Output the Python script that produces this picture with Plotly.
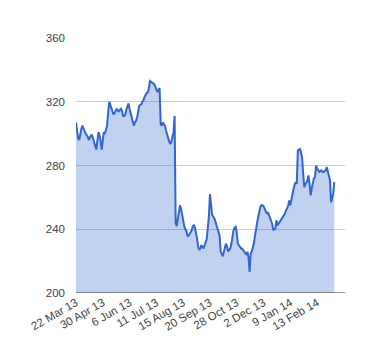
import plotly.graph_objects as go

prices = [
    307, 303, 297, 296, 300, 303, 305, 303, 301, 300,
    299, 298, 296, 298, 299, 299, 297, 295, 293, 290,
    296, 301, 299, 295, 290, 296, 301, 300, 302, 305,
    313, 320, 318, 316, 314, 312, 313, 314, 315.6, 314.5,
    314, 315, 315.5, 314, 311, 311, 312, 315, 318, 319,
    315.6, 313, 310, 307, 305, 307, 308, 310, 314, 317.5,
    318, 318.5, 320, 321, 323, 324.8, 325.5, 326, 328.5, 333,
    332.5, 332, 331.5, 331, 329.5, 327, 326, 327.6, 328.6, 306,
    305, 307, 306, 305, 302, 299, 297, 295, 293.5, 295,
    298, 301, 311, 244, 242, 247, 252, 255, 253, 249,
    245.6, 242, 240, 239, 236, 236, 237, 238, 239.4, 242,
    242.5, 241, 238, 234, 229, 227, 228, 230, 229, 228,
    230, 233, 234, 241, 248, 262, 255, 249, 248, 247,
    245, 243, 241, 239.4, 236, 226, 224, 223, 226, 229,
    231, 229, 226, 227, 228, 231, 236, 239.4, 241, 241.5,
    238, 231, 230, 229, 228, 228, 227, 226, 224.8, 224,
    225.8, 222, 213.3, 224.8, 226, 228, 231, 236, 241.4, 244,
    247.7, 251, 254, 255, 255, 254.5, 253, 251, 249.8, 250.8,
    249, 246.7, 245, 243.5, 239.4, 240, 240.5, 245.6, 242.5, 243.5,
    244.6, 246, 246.7, 248, 248.8, 249.8, 251.9, 253, 255, 258,
    255, 259, 262, 265.4, 268, 269.6, 268.5, 289.4, 290, 290.4,
    288, 285, 274.8, 266.4, 268, 269.6, 270.6, 273.8, 267.5, 261.2,
    266, 270.6, 272, 272.7, 280, 278, 276.9, 276, 276.5, 276.9,
    276, 276, 276.5, 276.9, 279, 276, 273.8, 270.6, 257, 260,
    262.3, 269.6,
]
tick_labels = ["22 Mar 13", "30 Apr 13", "6 Jun 13", "11 Jul 13", "15 Aug 13",
               "20 Sep 13", "28 Oct 13", "2 Dec 13", "9 Jan 14", "13 Feb 14"]
tick_index = [0, 25, 50, 75, 100, 125, 150, 175, 200, 225]
y_ticks = [200, 240, 280, 320, 360]

idx = list(range(len(prices)))

fig = go.Figure()
fig.add_trace(go.Scatter(
    x=idx, y=prices, mode="lines",
    line=dict(color="#3366cc", width=2),
    fill="tozeroy", fillcolor="rgba(51,102,204,0.3)",
    hoverinfo="skip",
))

font = dict(family="Liberation Sans, Arial, sans-serif", size=11.5, color="#444444")
fig.update_layout(
    width=380, height=360,
    margin=dict(l=68, r=43, t=29.5, b=75),
    paper_bgcolor="white", plot_bgcolor="white",
    showlegend=False, font=font,
)
fig.update_xaxes(
    range=[0, 251], tickvals=tick_index, ticktext=tick_labels,
    tickangle=-30, showgrid=False, zeroline=False, showline=False,
    ticks="", tickfont=font, automargin=False,
)
fig.update_yaxes(
    range=[200, 360], tickvals=y_ticks, showgrid=True, gridcolor="#cccccc",
    gridwidth=1, zeroline=False, showline=False, ticks="",
    ticklabelstandoff=10, tickfont=font, automargin=False,
)
fig.add_shape(type="line", xref="paper", yref="y", x0=0, x1=1, y0=200, y1=200,
              line=dict(color="#333333", width=1))
fig.write_html("out.html")
